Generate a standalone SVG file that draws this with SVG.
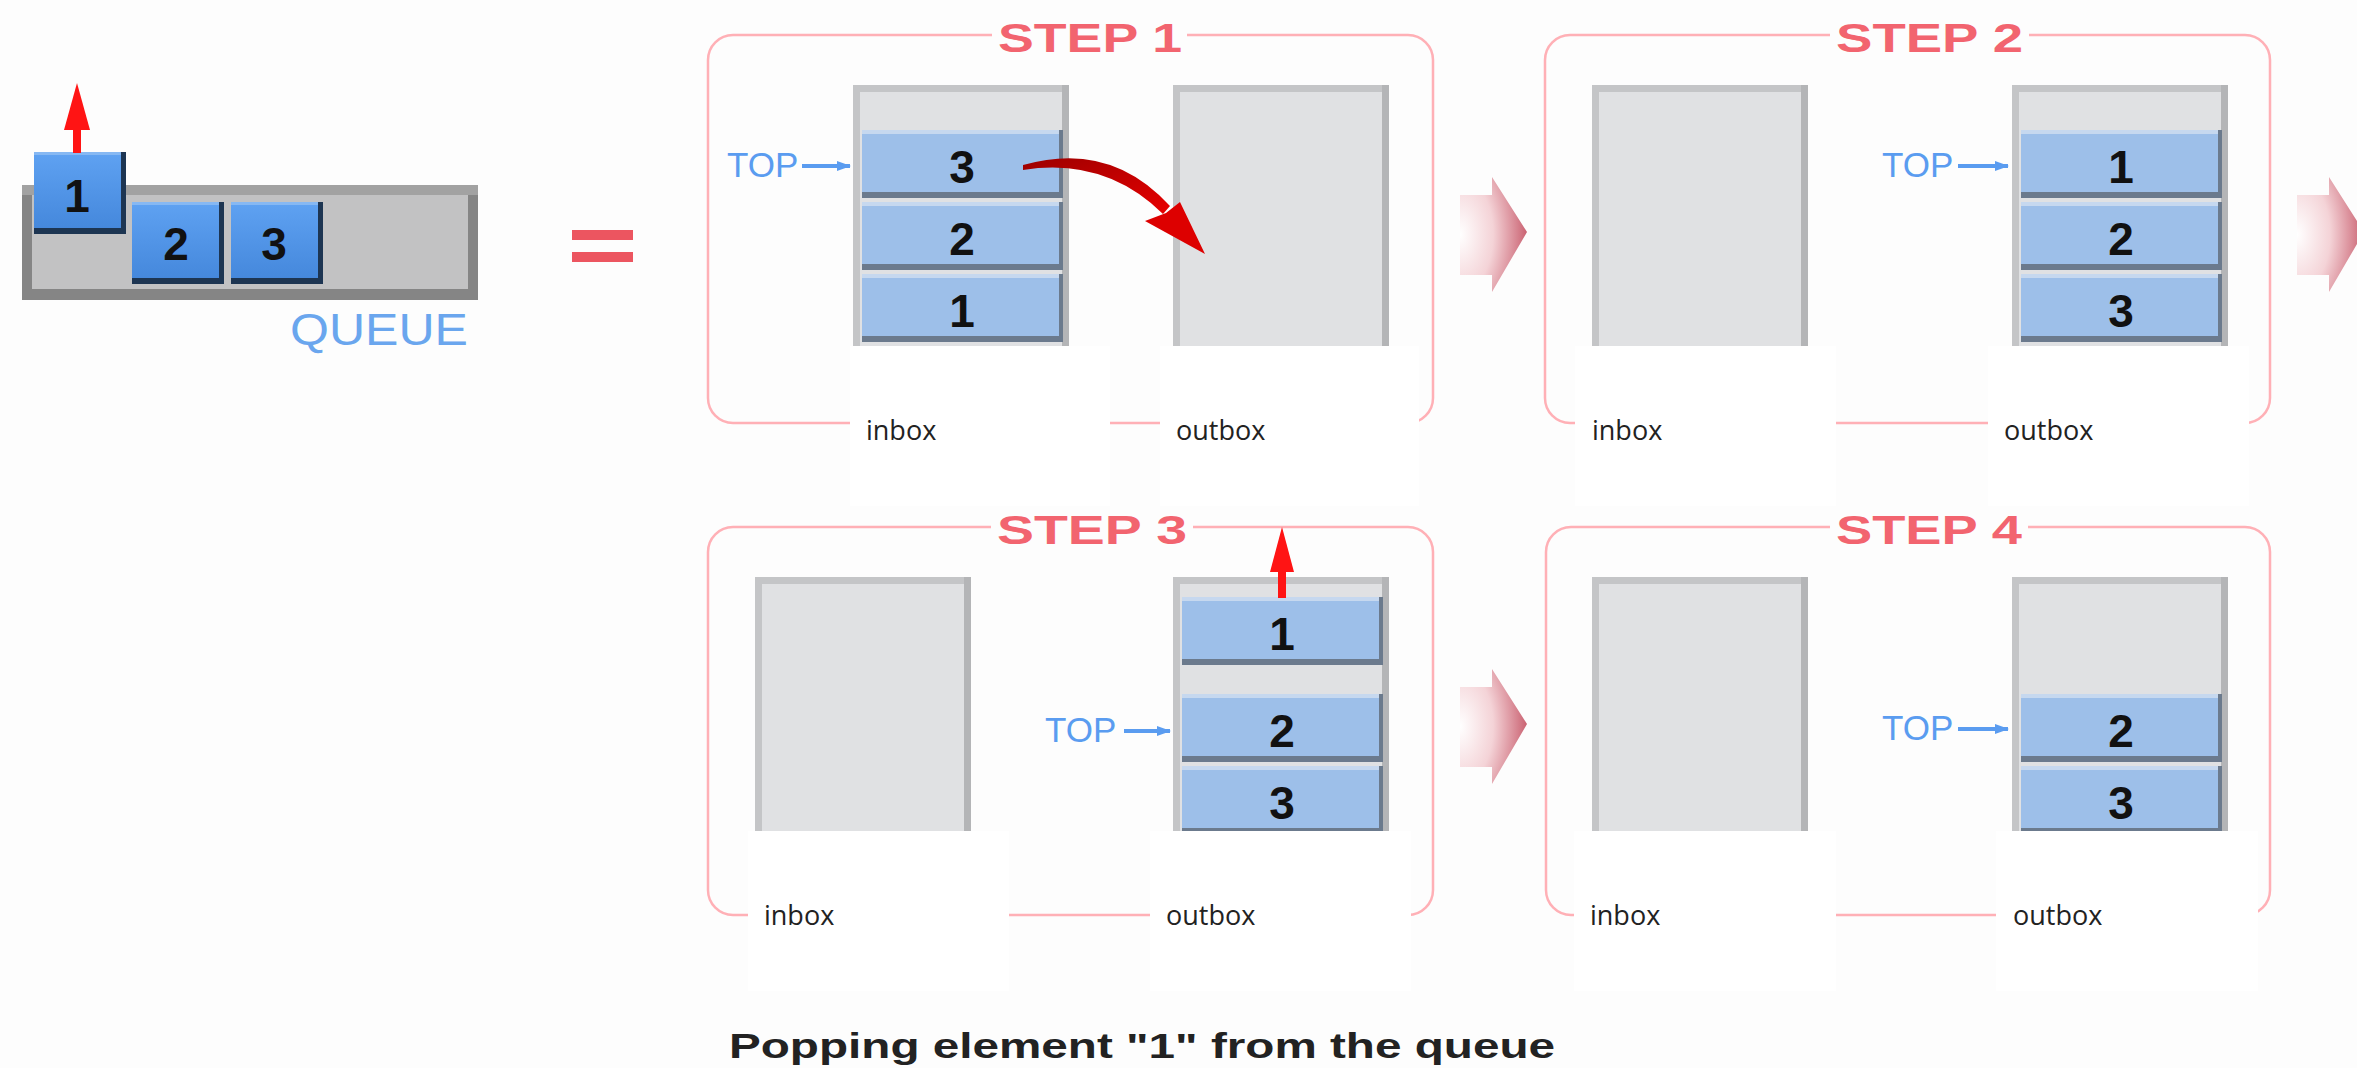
<svg xmlns="http://www.w3.org/2000/svg" width="2357" height="1068" viewBox="0 0 2357 1068">
<defs>
<style>
.frame{fill:none;stroke:#ffb0b6;stroke-width:2.5}
.title{font-family:"Liberation Sans",Arial,sans-serif;font-weight:bold;font-size:41px;fill:#f2646f}
.num{font-family:"Liberation Sans",Arial,sans-serif;font-weight:bold;font-size:46px;fill:#111;text-anchor:middle}
.top{font-family:"Liberation Sans",Arial,sans-serif;font-size:35px;fill:#5a9cf0}
.topline{stroke:#5a9cf0;stroke-width:4;marker-end:url(#topHead)}
.lbl{font-family:"Open Sans","Liberation Sans",sans-serif;font-size:27px;fill:#222}
.lblbox{fill:#ffffff}
.cap{font-family:"Liberation Sans",Arial,sans-serif;font-weight:bold;font-size:35px;fill:#222}
.qlbl{font-family:"Liberation Sans",Arial,sans-serif;font-size:44px;fill:#6aa6ee}
.pop{fill:#ff1414}
</style>
<radialGradient id="chevGrad" cx="0" cy="0.5" r="1.1" fx="0" fy="0.5">
<stop offset="0" stop-color="#ffffff"/>
<stop offset="0.45" stop-color="#f4d3d7"/>
<stop offset="1" stop-color="#c24c5e"/>
</radialGradient>
<linearGradient id="curveGrad" x1="0" y1="0" x2="1" y2="1">
<stop offset="0" stop-color="#9c0000"/>
<stop offset="1" stop-color="#e80000"/>
</linearGradient>
<linearGradient id="qGrad" x1="0" y1="0" x2="0" y2="1">
<stop offset="0" stop-color="#5fa2f2"/>
<stop offset="1" stop-color="#4588dc"/>
</linearGradient>
<marker id="topHead" viewBox="0 0 14 10" refX="13" refY="5" markerWidth="14" markerHeight="10" markerUnits="userSpaceOnUse" orient="auto">
<path d="M0,0 L14,5 L0,10 Z" fill="#5a9cf0"/>
</marker>
<g id="stack">
<rect x="0" y="0" width="216" height="270" fill="#c4c5c7"/>
<rect x="209" y="0" width="7" height="270" fill="#b4b5b7"/>
<rect x="7" y="7" width="202" height="263" fill="#e0e1e3"/>
</g>
<g id="elem">
<rect x="0" y="0" width="201" height="68" fill="#6b7a8d"/>
<rect x="0" y="0" width="197" height="62" fill="#9dbfe9"/>
<rect x="0" y="0" width="197" height="4" fill="#c6d8ef"/>
</g>
<g id="qbox">
<rect x="0" y="0" width="92" height="82" fill="#1d3552"/>
<rect x="0" y="0" width="87" height="76" fill="url(#qGrad)"/>
<rect x="0" y="0" width="87" height="3" fill="#86b8f3"/>
</g>
<path id="chev" d="M0,18 H32 V0 L67,55 L32,115 V98 H0 Z"/>
</defs>

<rect x="0" y="0" width="2357" height="1068" fill="#fdfdfd"/>

<g id="queue">
<rect x="22" y="185" width="456" height="115" fill="#858585"/>
<rect x="22" y="185" width="456" height="10" fill="#a2a2a2"/>
<rect x="32" y="195" width="436" height="94" fill="#c2c2c3"/>
<use href="#qbox" x="34" y="152"/>
<use href="#qbox" x="132" y="202"/>
<use href="#qbox" x="231" y="202"/>
<text class="num" x="77" y="212">1</text>
<text class="num" x="176" y="260">2</text>
<text class="num" x="274" y="260">3</text>
<rect class="pop" x="73" y="126" width="8" height="27"/>
<path class="pop" d="M64,130 L77,83 L90,130 Z"/>
<text class="qlbl" x="290" y="345" textLength="178" lengthAdjust="spacingAndGlyphs">QUEUE</text>
</g>

<g id="equals" fill="#ec5560">
<rect x="572" y="230" width="61" height="10"/>
<rect x="572" y="252" width="61" height="10"/>
</g>

<g id="step1">
<path class="frame" d="M1187,35 H1408 A25,25 0 0 1 1433,60 V398 A25,25 0 0 1 1408,423 H733 A25,25 0 0 1 708,398 V60 A25,25 0 0 1 733,35 H992"/>
<text class="title" x="998" y="52" textLength="184" lengthAdjust="spacingAndGlyphs">STEP 1</text>
<g id="step1-inbox">
<use href="#stack" x="853" y="85"/>
<use href="#elem" x="862" y="130"/>
<use href="#elem" x="862" y="202"/>
<use href="#elem" x="862" y="274"/>
<text class="num" x="962" y="183">3</text>
<text class="num" x="962" y="255">2</text>
<text class="num" x="962" y="327">1</text>
<text class="top" x="727" y="177">TOP</text>
<line class="topline" x1="802" y1="166" x2="850" y2="166"/>
</g>
<g id="step1-outbox">
<use href="#stack" x="1173" y="85"/>
</g>
</g>

<g id="step2">
<path class="frame" d="M2029,35 H2245 A25,25 0 0 1 2270,60 V398 A25,25 0 0 1 2245,423 H1570 A25,25 0 0 1 1545,398 V60 A25,25 0 0 1 1570,35 H1830"/>
<text class="title" x="1836" y="52" textLength="187" lengthAdjust="spacingAndGlyphs">STEP 2</text>
<g id="step2-inbox">
<use href="#stack" x="1592" y="85"/>
</g>
<g id="step2-outbox">
<use href="#stack" x="2012" y="85"/>
<use href="#elem" x="2021" y="130"/>
<use href="#elem" x="2021" y="202"/>
<use href="#elem" x="2021" y="274"/>
<text class="num" x="2121" y="183">1</text>
<text class="num" x="2121" y="255">2</text>
<text class="num" x="2121" y="327">3</text>
<text class="top" x="1882" y="177">TOP</text>
<line class="topline" x1="1958" y1="166" x2="2008" y2="166"/>
</g>
</g>

<g id="step3">
<path class="frame" d="M1193,527 H1408 A25,25 0 0 1 1433,552 V890 A25,25 0 0 1 1408,915 H733 A25,25 0 0 1 708,890 V552 A25,25 0 0 1 733,527 H991"/>
<text class="title" x="997" y="544" textLength="190" lengthAdjust="spacingAndGlyphs">STEP 3</text>
<g id="step3-inbox">
<use href="#stack" x="755" y="577"/>
</g>
<g id="step3-outbox">
<use href="#stack" x="1173" y="577"/>
<use href="#elem" x="1182" y="597"/>
<use href="#elem" x="1182" y="694"/>
<use href="#elem" x="1182" y="766"/>
<text class="num" x="1282" y="650">1</text>
<text class="num" x="1282" y="747">2</text>
<text class="num" x="1282" y="819">3</text>
<text class="top" x="1045" y="742">TOP</text>
<line class="topline" x1="1124" y1="731" x2="1170" y2="731"/>
</g>
</g>

<g id="step4">
<path class="frame" d="M2028,527 H2245 A25,25 0 0 1 2270,552 V890 A25,25 0 0 1 2245,915 H1571 A25,25 0 0 1 1546,890 V552 A25,25 0 0 1 1571,527 H1830"/>
<text class="title" x="1836" y="544" textLength="186" lengthAdjust="spacingAndGlyphs">STEP 4</text>
<g id="step4-inbox">
<use href="#stack" x="1592" y="577"/>
</g>
<g id="step4-outbox">
<use href="#stack" x="2012" y="577"/>
<use href="#elem" x="2021" y="694"/>
<use href="#elem" x="2021" y="766"/>
<text class="num" x="2121" y="747">2</text>
<text class="num" x="2121" y="819">3</text>
<text class="top" x="1882" y="740">TOP</text>
<line class="topline" x1="1958" y1="729" x2="2008" y2="729"/>
</g>
</g>

<g id="connectors">
<use href="#chev" x="1460" y="177" fill="url(#chevGrad)"/>
<use href="#chev" x="2297" y="177" fill="url(#chevGrad)"/>
<use href="#chev" x="1460" y="669" fill="url(#chevGrad)"/>
<path d="M1023,165 Q1110,140 1170,206 L1163,214 Q1105,157 1023,170 Z" fill="url(#curveGrad)"/>
<path d="M1205,254 L1180,202 L1166,213 L1145,221 Z" fill="#dd0000"/>
<rect class="pop" x="1278" y="568" width="8" height="30"/>
<path class="pop" d="M1270,572 L1282,527 L1294,572 Z"/>
</g>

<g id="labels">
<rect class="lblbox" x="850" y="346" width="260" height="160"/>
<rect class="lblbox" x="1160" y="346" width="259" height="160"/>
<rect class="lblbox" x="1575" y="346" width="261" height="160"/>
<rect class="lblbox" x="1988" y="346" width="261" height="160"/>
<rect class="lblbox" x="748" y="831" width="261" height="160"/>
<rect class="lblbox" x="1150" y="831" width="261" height="160"/>
<rect class="lblbox" x="1574" y="831" width="262" height="160"/>
<rect class="lblbox" x="1996" y="831" width="262" height="160"/>
<text class="lbl" x="866" y="440">inbox</text>
<text class="lbl" x="1176" y="440">outbox</text>
<text class="lbl" x="1592" y="440">inbox</text>
<text class="lbl" x="2004" y="440">outbox</text>
<text class="lbl" x="764" y="925">inbox</text>
<text class="lbl" x="1166" y="925">outbox</text>
<text class="lbl" x="1590" y="925">inbox</text>
<text class="lbl" x="2013" y="925">outbox</text>
</g>

<g id="caption">
<text class="cap" x="729" y="1058" textLength="826" lengthAdjust="spacingAndGlyphs">Popping element "1" from the queue</text>
</g>
</svg>
